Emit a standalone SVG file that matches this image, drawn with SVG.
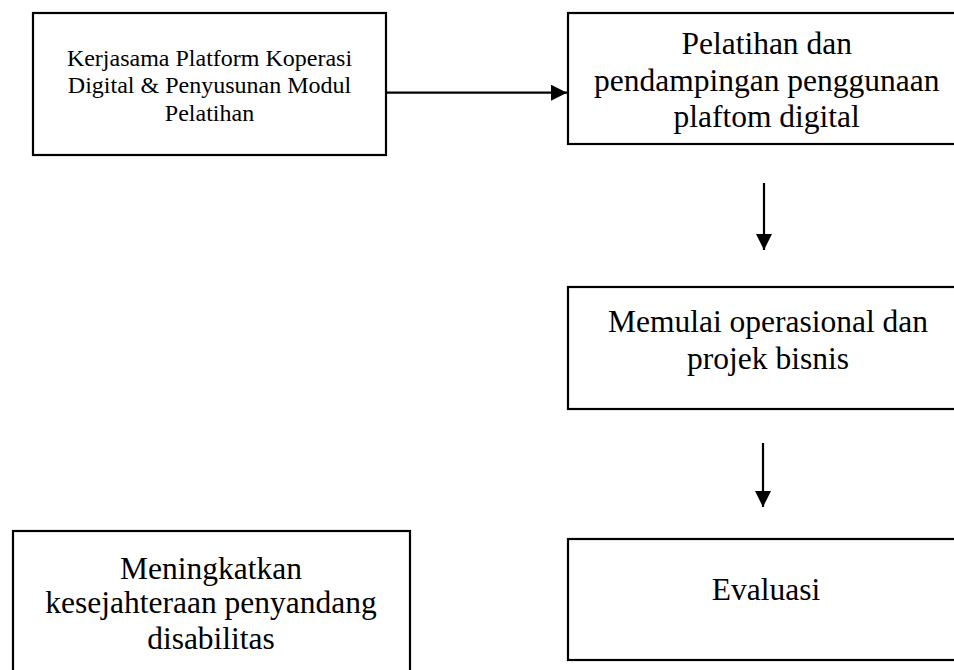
<svg xmlns="http://www.w3.org/2000/svg" width="954" height="670" viewBox="0 0 954 670">
<style>
.box{fill:#fff;stroke:#000;stroke-width:2.2}
.t{font-family:"Liberation Serif","Times New Roman",serif;fill:#000;text-anchor:middle}
.s{font-size:24px}
.b{font-size:31.5px}
.c{stroke:#000;stroke-width:2.2;fill:none}
</style>
<defs>
<marker id="ah" viewBox="0 0 10 10" refX="10" refY="5" markerWidth="16" markerHeight="16" markerUnits="userSpaceOnUse" orient="auto">
<path d="M0,0 L10,5 L0,10 Z" fill="#000"/>
</marker>
</defs>
<rect width="954" height="670" fill="#fff"/>
<g id="n1">
<rect class="box" x="33" y="13" width="353" height="142"/>
<text class="t s" x="209.5" y="65.5">Kerjasama Platform Koperasi</text>
<text class="t s" x="209.5" y="93">Digital &amp; Penyusunan Modul</text>
<text class="t s" x="209.5" y="120.5">Pelatihan</text>
</g>
<g id="n2">
<rect class="box" x="568" y="13" width="400" height="131"/>
<text class="t b" x="766.7" y="53.5">Pelatihan dan</text>
<text class="t b" x="766.7" y="90.5">pendampingan penggunaan</text>
<text class="t b" x="766.7" y="127">plaftom digital</text>
</g>
<g id="n3">
<rect class="box" x="568" y="287" width="400" height="122"/>
<text class="t b" x="768" y="332">Memulai operasional dan</text>
<text class="t b" x="768" y="368.5">projek bisnis</text>
</g>
<g id="n4">
<rect class="box" x="568" y="539" width="400" height="121"/>
<text class="t b" x="766" y="600">Evaluasi</text>
</g>
<g id="n5">
<rect class="box" x="13" y="531" width="397" height="160"/>
<text class="t b" x="211" y="578.5">Meningkatkan</text>
<text class="t b" x="211" y="613">kesejahteraan penyandang</text>
<text class="t b" x="211" y="648.5">disabilitas</text>
</g>
<g id="connectors">
<line class="c" x1="386" y1="92.7" x2="567" y2="92.7" marker-end="url(#ah)"/>
<line class="c" x1="764" y1="183" x2="764" y2="250" marker-end="url(#ah)"/>
<line class="c" x1="763" y1="443" x2="763" y2="507" marker-end="url(#ah)"/>
</g>
</svg>
